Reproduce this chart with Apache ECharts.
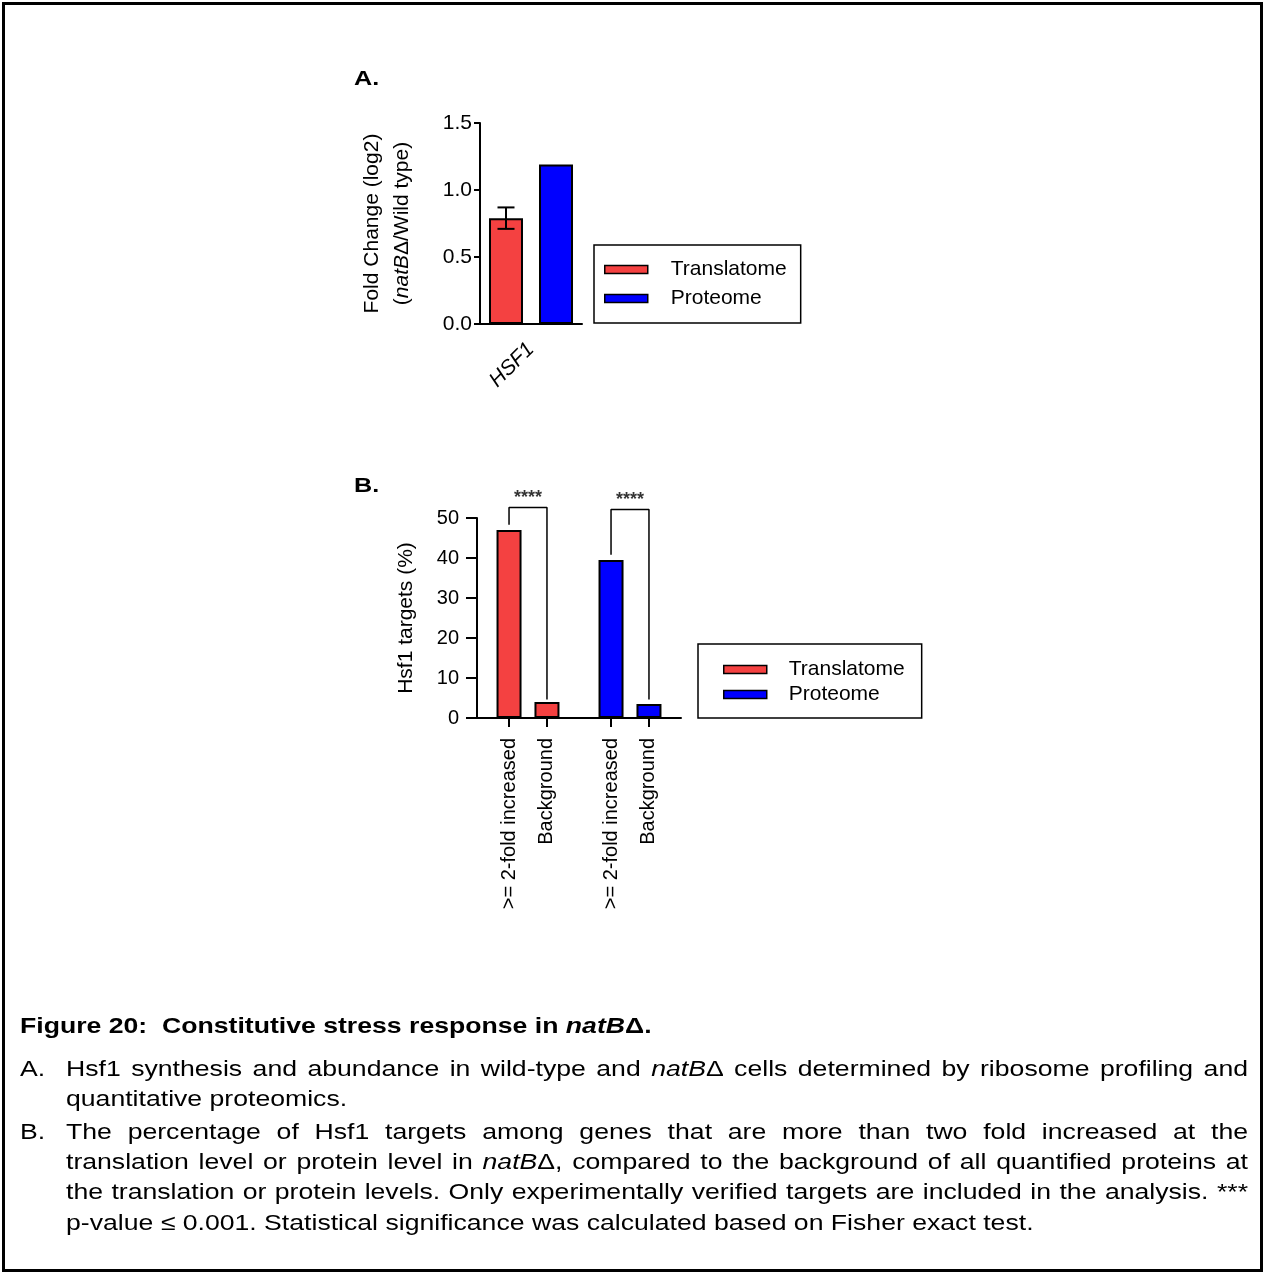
<!DOCTYPE html>
<html><head><meta charset="utf-8">
<script src="https://cdn.jsdelivr.net/npm/echarts@6/dist/echarts.min.js"></script>
<style>html,body{margin:0;padding:0;background:#fff}#c{width:1263px;height:1273px}</style>
</head><body><div id="c"></div>
<script>
// ---------------- data ----------------
const SERIES_NAMES = ['Translatome', 'Proteome'];
// Panel A
const A_CATEGORIES = ['HSF1'];
const A_TRANSLATOME = [0.79];
const A_TRANSLATOME_ERR = [0.08];
const A_PROTEOME = [1.19];
const A_Y_TICKS = [0, 0.5, 1.0, 1.5];
// Panel B
const B_GROUPS = ['Translatome', 'Proteome'];
const B_SUBCATS = ['>= 2-fold increased', 'Background'];
const B_TRANSLATOME = [47, 4];
const B_PROTEOME = [39.5, 3.5];
const B_SIGNIF = ['****', '****'];
const B_BRACKET_TOP = [52.6, 52.1];
const B_Y_TICKS = [0, 10, 20, 30, 40, 50];
// Caption
const CAPTION_TITLE = 'Figure 20:  Constitutive stress response in _natB_\u0394.';
const CAPTION_ITEMS = [
  {label: 'A.', lines: [
    'Hsf1 synthesis and abundance in wild-type and _natB_\u0394 cells determined by ribosome profiling and',
    'quantitative proteomics.']},
  {label: 'B.', lines: [
    'The percentage of Hsf1 targets among genes that are more than two fold increased at the',
    'translation level or protein level in _natB_\u0394, compared to the background of all quantified proteins at',
    'the translation or protein levels. Only experimentally verified targets are included in the analysis. ***',
    'p-value \u2264 0.001. Statistical significance was calculated based on Fisher exact test.']}
];

// ---------------- style / layout ----------------
const FONT = '"Liberation Sans", Arial, sans-serif';
const COLORS = ['#f44141', '#0000ff'];
const A_BAR_W = 34, A_BAR_GAP = 16, A_CAP_W = 17;
const A_BAR_SHIFT = (A_BAR_W + A_BAR_GAP) / 2;
const B_BAR_W = 25, B_OFFSET = 0.186;
const bPos = (g, s) => g + 0.5 + (s === 0 ? -B_OFFSET : B_OFFSET);
const B_POSITIONS = [];
const B_LABELS = [];
B_GROUPS.forEach((g, gi) => B_SUBCATS.forEach((s, si) => { B_POSITIONS.push(bPos(gi, si)); B_LABELS.push(s); }));

const axisLineStyle = {color: '#000', width: 2};
const txt = (size, extra) => Object.assign({color: '#000', fontFamily: FONT, fontSize: size}, extra || {});

// ---------------- caption graphic ----------------
const ctx = document.createElement('canvas').getContext('2d');
function segs(str) {
  return str.split('_').map((t, i) => ({t, it: i % 2 === 1})).filter(p => p.t.length);
}
function fontStr(size, bold, it) { return (it ? 'italic ' : '') + (bold ? 'bold ' : '') + size + 'px "Liberation Sans"'; }
function segW(seg, size, bold) { ctx.font = fontStr(size, bold, seg.it); return ctx.measureText(seg.t).width; }
function runW(list, size, bold, sx) { return list.reduce((a, s) => a + segW(s, size, bold) * sx, 0); }
function emitRun(list, x, y, size, bold, sx, out) {
  let cx = x;
  list.forEach(seg => {
    out.push({type: 'text', x: cx, y: y, scaleX: sx, silent: true,
      style: {text: seg.t, fontSize: size, fontFamily: FONT, fontWeight: bold ? 'bold' : 'normal',
        fontStyle: seg.it ? 'italic' : 'normal', fill: '#000', align: 'left', verticalAlign: 'middle'}});
    cx += segW(seg, size, bold) * sx;
  });
  return cx;
}
function emitJustified(line, x0, x1, y, size, sx, out) {
  const words = line.split(' ').map(segs);
  const widths = words.map(w => runW(w, size, false, sx));
  const total = widths.reduce((a, b) => a + b, 0);
  const gap = (x1 - x0 - total) / (words.length - 1);
  let cx = x0;
  words.forEach((w, i) => { emitRun(w, cx, y, size, false, sx, out); cx += widths[i] + gap; });
}

const graphics = [];
graphics.push({type: 'rect', silent: true, shape: {x: 3.5, y: 3.5, width: 1258, height: 1267},
  style: {fill: 'none', stroke: '#000', lineWidth: 3}});
graphics.push({type: 'text', x: 354, y: 79, scaleX: 1.2, silent: true,
  style: {text: 'A.', fontSize: 21, fontWeight: 'bold', fontFamily: FONT, fill: '#000', verticalAlign: 'middle'}});
graphics.push({type: 'text', x: 354, y: 486, scaleX: 1.2, silent: true,
  style: {text: 'B.', fontSize: 21, fontWeight: 'bold', fontFamily: FONT, fill: '#000', verticalAlign: 'middle'}});

const CAP_SIZE = 22, CAP_SX = 1.21, CAP_X_LABEL = 20, CAP_X_TEXT = 66, CAP_X_END = 1248;
emitRun(segs(CAPTION_TITLE), 20, 1026.5, 22, true, 1.21, graphics);
const lineYs = [[1070, 1100], [1133, 1163, 1193, 1224]];
CAPTION_ITEMS.forEach((item, ii) => {
  const ys = lineYs[ii];
  emitRun(segs(item.label), CAP_X_LABEL, ys[0], CAP_SIZE, false, CAP_SX, graphics);
  item.lines.forEach((ln, li) => {
    if (li < item.lines.length - 1) emitJustified(ln, CAP_X_TEXT, CAP_X_END, ys[li], CAP_SIZE, CAP_SX, graphics);
    else emitRun(segs(ln), CAP_X_TEXT, ys[li], CAP_SIZE, false, CAP_SX, graphics);
  });
});

// ---------------- chart ----------------
const legendBase = {
  orient: 'vertical', data: SERIES_NAMES, icon: 'rect', itemWidth: 43, itemHeight: 8,
  borderColor: '#000', borderWidth: 1.5, selectedMode: false,
  itemStyle: {borderColor: '#000', borderWidth: 1.5}
};

const option = {
  animation: false,
  backgroundColor: '#fff',
  graphic: graphics,
  legend: [
    Object.assign({}, legendBase, {left: 594, top: 245, itemGap: 8, padding: [14, 14, 14, 10],
      textStyle: txt(21, {padding: [0, 0, 0, 18]})}),
    Object.assign({}, legendBase, {left: 698, top: 644, itemGap: 4, padding: [15, 17, 13, 25],
      textStyle: txt(21, {padding: [0, 0, 0, 17]})})
  ],
  grid: [
    {left: 480, top: 123, width: 102, height: 201},
    {left: 477, top: 518, width: 204, height: 200}
  ],
  xAxis: [
    {gridIndex: 0, type: 'category', data: A_CATEGORIES,
      axisLine: {lineStyle: axisLineStyle},
      axisTick: {alignWithLabel: true, length: 12, lineStyle: axisLineStyle},
      axisLabel: txt(21, {rotate: 45, fontStyle: 'italic', margin: 22, interval: 0})},
    {gridIndex: 1, type: 'value', min: 0, max: B_GROUPS.length,
      splitLine: {show: false},
      axisLine: {onZero: false, lineStyle: axisLineStyle},
      axisTick: {customValues: B_POSITIONS, length: 9, lineStyle: axisLineStyle},
      axisLabel: txt(20, {customValues: B_POSITIONS, rotate: 90, margin: 20,
        formatter: v => { let k = 0, d = 1e9; B_POSITIONS.forEach((p, i) => { if (Math.abs(p - v) < d) { d = Math.abs(p - v); k = i; } }); return B_LABELS[k]; }})}
  ],
  yAxis: [
    {gridIndex: 0, type: 'value', min: A_Y_TICKS[0], max: A_Y_TICKS[A_Y_TICKS.length - 1],
      interval: A_Y_TICKS[1] - A_Y_TICKS[0], splitLine: {show: false},
      axisLine: {show: true, lineStyle: axisLineStyle},
      axisTick: {show: true, length: 6, lineStyle: axisLineStyle},
      axisLabel: txt(21, {margin: 8, formatter: v => v.toFixed(1)}),
      name: 'Fold Change (log2)\n({it|natB}\u0394/Wild type)', nameLocation: 'middle', nameGap: 63, nameRotate: 90,
      nameTextStyle: txt(21, {lineHeight: 30, rich: {it: txt(21, {fontStyle: 'italic', lineHeight: 30})}})},
    {gridIndex: 1, type: 'value', min: B_Y_TICKS[0], max: B_Y_TICKS[B_Y_TICKS.length - 1],
      interval: B_Y_TICKS[1] - B_Y_TICKS[0], splitLine: {show: false},
      axisLine: {show: true, lineStyle: axisLineStyle},
      axisTick: {show: true, length: 11, lineStyle: axisLineStyle},
      axisLabel: txt(20, {margin: 18}),
      name: 'Hsf1 targets (%)', nameLocation: 'middle', nameGap: 60, nameRotate: 90,
      nameTextStyle: txt(21)}
  ],
  series: [
    {type: 'bar', name: SERIES_NAMES[0], xAxisIndex: 0, yAxisIndex: 0, data: A_TRANSLATOME,
      barWidth: A_BAR_W, barGap: (A_BAR_GAP / A_BAR_W * 100).toFixed(1) + '%',
      itemStyle: {color: COLORS[0], borderColor: '#000', borderWidth: 2}},
    {type: 'bar', name: SERIES_NAMES[1], xAxisIndex: 0, yAxisIndex: 0, data: A_PROTEOME,
      barWidth: A_BAR_W, itemStyle: {color: COLORS[1], borderColor: '#000', borderWidth: 2}},
    {type: 'custom', xAxisIndex: 0, yAxisIndex: 0, silent: true, z: 5,
      data: A_TRANSLATOME.map((v, i) => [i, v - A_TRANSLATOME_ERR[i], v + A_TRANSLATOME_ERR[i]]),
      encode: {x: 0, y: [1, 2]},
      renderItem: (params, api) => {
        const x = api.coord([api.value(0), 0])[0] - A_BAR_SHIFT;
        const yLo = api.coord([api.value(0), api.value(1)])[1];
        const yHi = api.coord([api.value(0), api.value(2)])[1];
        const hw = A_CAP_W / 2, st = {stroke: '#000', lineWidth: 2};
        return {type: 'group', children: [
          {type: 'line', shape: {x1: x, y1: yLo, x2: x, y2: yHi}, style: st},
          {type: 'line', shape: {x1: x - hw, y1: yHi, x2: x + hw, y2: yHi}, style: st},
          {type: 'line', shape: {x1: x - hw, y1: yLo, x2: x + hw, y2: yLo}, style: st}
        ]};
      }},
    {type: 'bar', name: SERIES_NAMES[0], xAxisIndex: 1, yAxisIndex: 1,
      data: B_TRANSLATOME.map((v, s) => [bPos(0, s), v]), barWidth: B_BAR_W, barGap: '-100%',
      itemStyle: {color: COLORS[0], borderColor: '#000', borderWidth: 2}},
    {type: 'bar', name: SERIES_NAMES[1], xAxisIndex: 1, yAxisIndex: 1,
      data: B_PROTEOME.map((v, s) => [bPos(1, s), v]), barWidth: B_BAR_W, barGap: '-100%',
      itemStyle: {color: COLORS[1], borderColor: '#000', borderWidth: 2}},
    ...[B_TRANSLATOME, B_PROTEOME].map((vals, g) => ({
      type: 'line', xAxisIndex: 1, yAxisIndex: 1, clip: false, silent: true, symbol: 'none',
      lineStyle: {color: '#000', width: 1.5},
      data: [[bPos(g, 0), vals[0] + 1.3], [bPos(g, 0), B_BRACKET_TOP[g]],
             [bPos(g, 1), B_BRACKET_TOP[g]], [bPos(g, 1), vals[1] + (g === 0 ? 0.6 : 1.1)]]
    })),
    {type: 'scatter', xAxisIndex: 1, yAxisIndex: 1, clip: false, silent: true, symbolSize: 0,
      data: B_GROUPS.map((g, gi) => [gi + 0.5, B_BRACKET_TOP[gi]]),
      label: {show: true, position: 'top', distance: 1, color: '#000', fontFamily: FONT,
        fontSize: 18, fontWeight: 'bold', formatter: p => B_SIGNIF[p.dataIndex]}}
  ]
};

const chart = echarts.init(document.getElementById('c'), null, {renderer: 'canvas'});
chart.setOption(option);
</script>
</body></html>
